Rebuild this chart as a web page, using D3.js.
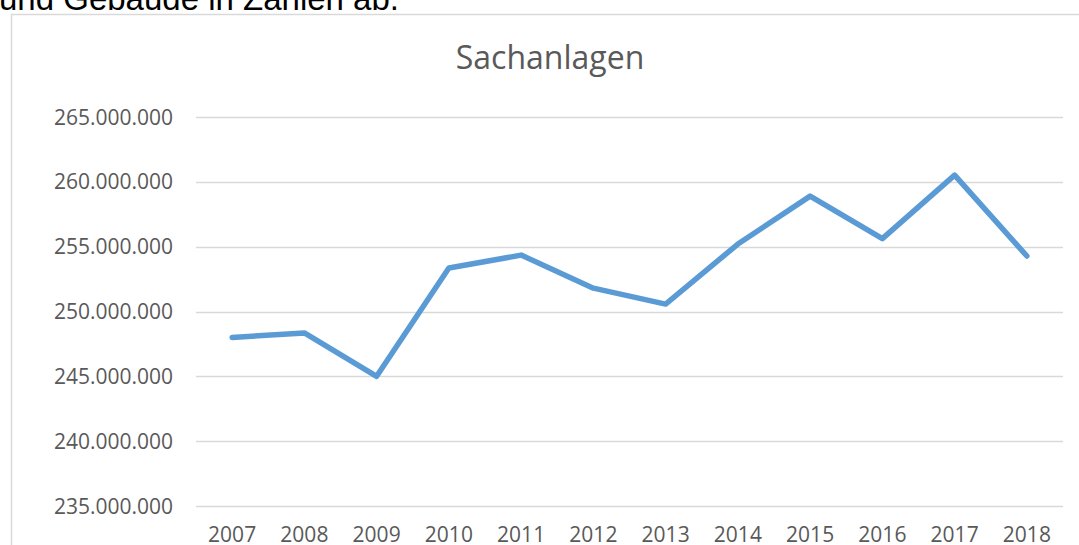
<!DOCTYPE html>
<html>
<head>
<meta charset="utf-8">
<script src="https://cdn.jsdelivr.net/npm/d3@7"></script>
<style>
  html, body { margin: 0; padding: 0; background: #fff; overflow: hidden; }
  svg { display: block; }
</style>
</head>
<body>
<svg id="chart" width="1079" height="545"></svg>
<script>
// Werte
const years = ["2007", "2008", "2009", "2010", "2011", "2012", "2013", "2014", "2015", "2016", "2017", "2018"];
const sachanlagen = [248000000, 248350000, 245000000, 253350000, 254350000, 251800000, 250570000, 255200000, 258900000, 255620000, 260520000, 254280000];
const yTicks = [235000000, 240000000, 245000000, 250000000, 255000000, 260000000, 265000000];

const width = 1079, height = 545;
const svg = d3.select("#chart");

// abgeschnittener Fliesstext oberhalb des Diagramms
svg.append("text")
  .attr("x", -1)
  .attr("y", 10)
  .attr("font-family", "Liberation Sans, Arial, sans-serif")
  .attr("font-size", 33)
  .attr("fill", "#000")
  .text("und Gebäude in Zahlen ab.");

// Rahmen des Diagrammbereichs
svg.append("path")
  .attr("d", `M11.5,${height + 2} V14.5 H${width + 2}`)
  .attr("fill", "none")
  .attr("stroke", "#d9d9d9")
  .attr("stroke-width", 1.5);

const de = d3.formatLocale({ decimal: ",", thousands: ".", grouping: [3], currency: ["", " €"] });
const fmt = de.format(",.0f");

const x = d3.scaleBand()
  .domain(years)
  .range([196, 1063]);

const y = d3.scaleLinear()
  .domain([235000000, 265000000])
  .range([506, 117]);

const font = "'Open Sans', sans-serif";

// Titel
svg.append("text")
  .attr("x", 550)
  .attr("y", 69)
  .attr("text-anchor", "middle")
  .attr("font-family", font)
  .attr("font-size", 32)
  .attr("fill", "#595959")
  .text("Sachanlagen");

// Gitterlinien
svg.append("g")
  .selectAll("line")
  .data(yTicks)
  .join("line")
  .attr("x1", x.range()[0])
  .attr("x2", x.range()[1])
  .attr("y1", d => Math.round(y(d)) + 0.5)
  .attr("y2", d => Math.round(y(d)) + 0.5)
  .attr("stroke", "#d9d9d9")
  .attr("stroke-width", 1.5);

// Y-Achse
svg.append("g")
  .selectAll("text")
  .data(yTicks)
  .join("text")
  .attr("x", 173)
  .attr("y", d => y(d))
  .attr("dy", "0.36em")
  .attr("text-anchor", "end")
  .attr("font-family", font)
  .attr("font-size", 21)
  .attr("fill", "#595959")
  .text(d => fmt(d));

// X-Achse
svg.append("g")
  .selectAll("text")
  .data(years)
  .join("text")
  .attr("x", d => x(d) + x.bandwidth() / 2)
  .attr("y", 542)
  .attr("text-anchor", "middle")
  .attr("font-family", font)
  .attr("font-size", 21)
  .attr("fill", "#595959")
  .text(d => d);

// Linie
const line = d3.line()
  .x((d, i) => x(years[i]) + x.bandwidth() / 2)
  .y(d => y(d));

svg.append("path")
  .datum(sachanlagen)
  .attr("d", line)
  .attr("fill", "none")
  .attr("stroke", "#5b9bd5")
  .attr("stroke-width", 5.5)
  .attr("stroke-linejoin", "round")
  .attr("stroke-linecap", "round");
</script>
</body>
</html>
